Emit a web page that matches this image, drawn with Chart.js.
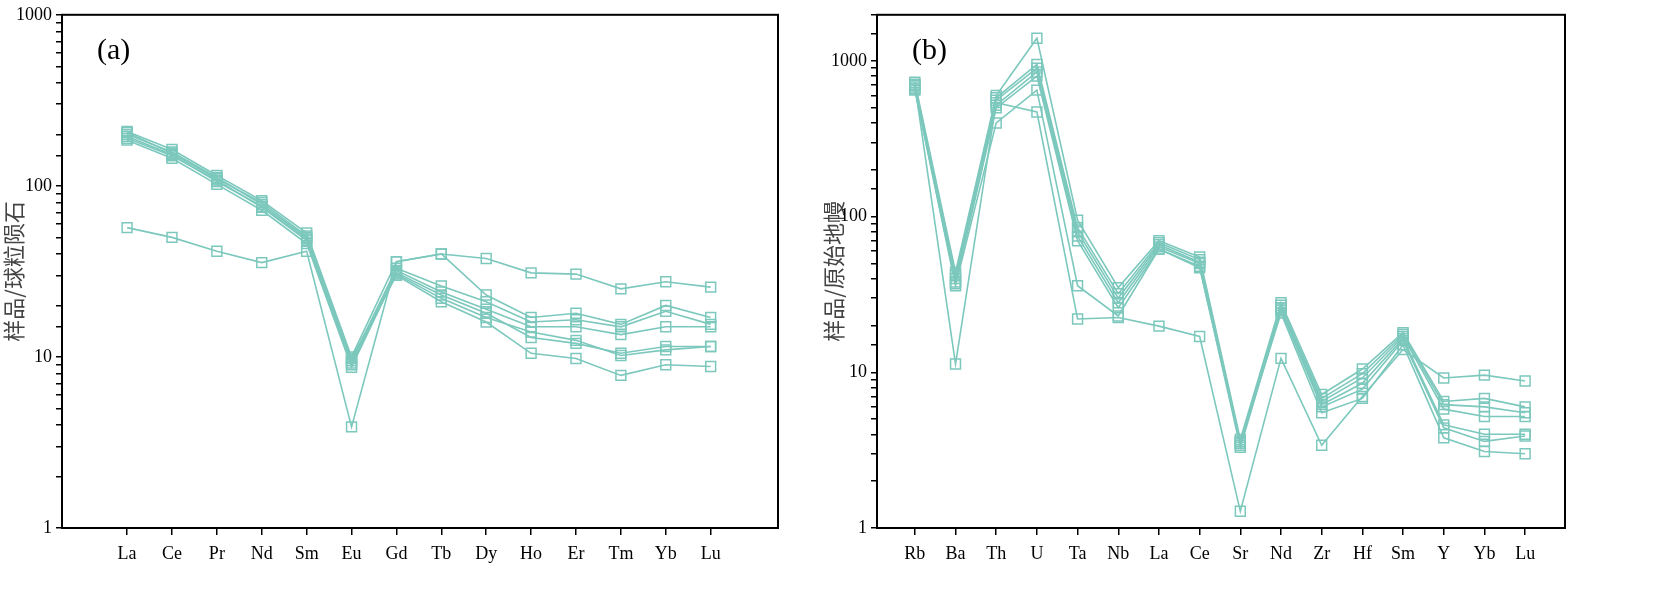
<!DOCTYPE html>
<html>
<head>
<meta charset="utf-8">
<script src="https://cdn.jsdelivr.net/npm/chart.js@4.4.1/dist/chart.umd.min.js"></script>
<style>
  body { margin: 0; background: #fff; width: 1655px; height: 596px; overflow: hidden; }
  .box { position: absolute; top: 0; height: 596px; }
</style>
</head>
<body>
<div class="box" style="left:0;width:800px"><canvas id="chartA"></canvas></div>
<div class="box" style="left:820px;width:835px"><canvas id="chartB"></canvas></div>
<script>
const reeLabels = ["La", "Ce", "Pr", "Nd", "Sm", "Eu", "Gd", "Tb", "Dy", "Ho", "Er", "Tm", "Yb", "Lu"];
const reeSamples = [
  [57, 50, 41.5, 35.6, 41.5, 3.9, 36, 40, 37.6, 31, 30.5, 25, 27.5, 25.6],
  [208, 163, 115, 82, 53, 10, 36, 40, 23, 17, 18, 15.5, 20, 17],
  [200, 158, 112, 78, 50, 9.5, 33, 26, 21, 16, 16.5, 15, 18.5, 15.5],
  [190, 150, 108, 75, 48, 9, 32, 24, 19, 15, 15, 13.5, 15, 15],
  [185, 145, 102, 72, 46, 8.7, 31, 23, 18, 13, 12, 10.5, 11.5, 11.5],
  [195, 152, 106, 76, 49, 9.2, 30.5, 22, 17, 14, 12.5, 10.2, 11, 11.5],
  [205, 155, 110, 80, 51, 9.8, 30, 21, 16, 10.5, 9.8, 7.8, 9, 8.8]
];

const traceLabels = ["Rb", "Ba", "Th", "U", "Ta", "Nb", "La", "Ce", "Sr", "Nd", "Zr", "Hf", "Sm", "Y", "Yb", "Lu"];
const traceSamples = [
  [700, 11.3, 540, 470, 22, 22.5, 19.8, 17, 1.28, 12.3, 3.4, 7, 14, 9.2, 9.6, 8.8],
  [730, 44, 600, 1400, 95, 35, 70, 55, 3.7, 28, 7.2, 10.5, 18, 6.5, 6.8, 6],
  [710, 42, 580, 950, 85, 32, 68, 53, 3.5, 27, 6.8, 9.8, 17.5, 6.2, 6, 5.5],
  [690, 40, 560, 900, 80, 30, 66, 51, 3.4, 26, 6.5, 9.2, 17, 5.8, 5.2, 5.2],
  [670, 38, 520, 850, 75, 28, 64, 50, 3.6, 25.5, 6.2, 8.5, 16.5, 4.6, 4, 4],
  [660, 37, 500, 800, 70, 26, 62, 48, 3.3, 25, 6, 7.8, 16, 4.4, 3.6, 3.9],
  [650, 36, 400, 650, 36, 23, 62, 47, 3.5, 24, 5.5, 6.8, 15, 3.8, 3.1, 3.0]
];

const majorTicks = [1, 10, 100, 1000];
const teal = "#7cc8bd";
const serif = "'Liberation Serif', 'DejaVu Serif', serif";

const framePlugin = {
  id: "frame",
  afterDraw(chart, args, opts) {
    const { ctx, chartArea: a } = chart;
    ctx.save();
    ctx.strokeStyle = "#000";
    ctx.lineWidth = 2;
    ctx.strokeRect(a.left, a.top, a.right - a.left, a.bottom - a.top);
    ctx.fillStyle = "#000";
    ctx.font = "30px " + serif;
    ctx.textBaseline = "middle";
    ctx.fillText(opts.tag, a.left + 35, a.top + 36);
    ctx.restore();
  }
};

function makeChart(id, labels, samples, opt) {
  const datasets = samples.map(s => ({
    data: s.map((v, i) => ({ x: i, y: v })),
    borderColor: teal,
    backgroundColor: "rgba(255,255,255,0)",
    borderWidth: 1.6,
    pointStyle: "rect",
    pointRadius: 7,
    pointBorderWidth: 1.5,
    pointBackgroundColor: "rgba(255,255,255,0)",
    tension: 0
  }));
  return new Chart(document.getElementById(id), {
    type: "line",
    data: { datasets },
    plugins: [framePlugin],
    options: {
      responsive: true,
      maintainAspectRatio: false,
      animation: false,
      layout: { padding: { top: 6, right: opt.right } },
      plugins: { legend: { display: false }, tooltip: { enabled: false }, frame: { tag: opt.tag } },
      scales: {
        x: {
          type: "linear",
          min: opt.xmin,
          max: opt.xmax,
          afterBuildTicks: s => { s.ticks = labels.map((l, i) => ({ value: i })); },
          afterFit: s => { s.height = 68; },
          ticks: { callback: v => labels[v] ?? "", color: "#000", font: { family: serif, size: 18 }, padding: 8, maxRotation: 0, autoSkip: false },
          grid: { display: true, drawOnChartArea: false, tickLength: 7, color: "#000", lineWidth: 1.5 },
          border: { color: "#000", width: 2 }
        },
        y: {
          type: "logarithmic",
          min: opt.ymin,
          max: opt.ymax,
          afterFit: s => { s.width = opt.yw; },
          ticks: {
            callback: v => majorTicks.includes(v) ? String(v) : "",
            autoSkip: false,
            color: "#000",
            font: { family: serif, size: 18 },
            padding: 4
          },
          grid: { display: true, drawOnChartArea: false, tickLength: 6, color: "#000", lineWidth: 1.5 },
          border: { color: "#000", width: 2 },
          title: { display: true, text: opt.ytitle, color: "#444", font: { family: "'Noto Sans CJK SC', sans-serif", size: 22 }, padding: 0 }
        }
      }
    }
  });
}

makeChart("chartA", reeLabels, reeSamples, {
  xmin: -1.45, xmax: 14.5, ymin: 1, ymax: 1000, yw: 62, right: 22, tag: "(a)", ytitle: "样品/球粒陨石"
});
makeChart("chartB", traceLabels, traceSamples, {
  xmin: -0.93, xmax: 15.98, ymin: 1, ymax: 1980, yw: 57, right: 90, tag: "(b)", ytitle: "样品/原始地幔"
});
</script>
</body>
</html>
